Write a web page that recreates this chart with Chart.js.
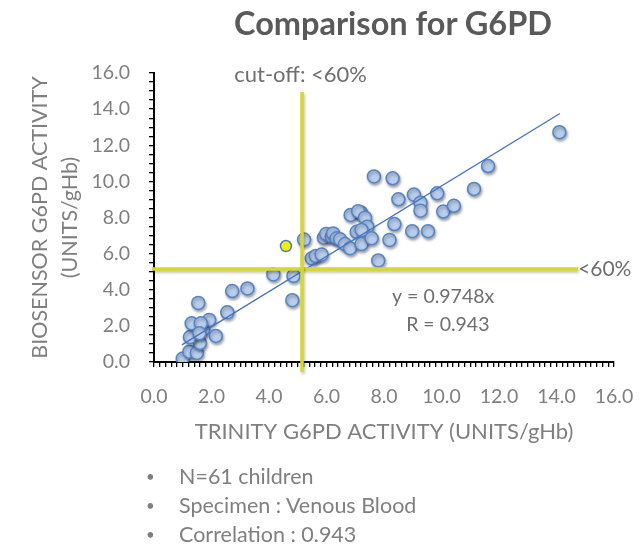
<!DOCTYPE html>
<html>
<head>
<meta charset="utf-8">
<script src="https://cdn.jsdelivr.net/npm/chart.js@4/dist/chart.umd.min.js"></script>
<style>
  html,body{margin:0;padding:0;background:#fff;}
  #wrap{position:relative;width:644px;height:547px;overflow:hidden;font-family:Lato,"Liberation Sans",sans-serif;}
  #c{position:absolute;left:0;top:0;}
  #title{position:absolute;left:153px;width:480px;top:3px;text-align:center;font-weight:bold;font-size:32.5px;color:#595959;line-height:40px;}
  ul{position:absolute;left:146px;top:462px;margin:0;padding:0;list-style:none;color:#7f7f7f;font-size:21.5px;}
  li{height:29px;line-height:29px;}
  li span.b{display:inline-block;width:33px;font-size:15px;vertical-align:top;}
</style>
</head>
<body>
<div id="wrap">
  <canvas id="c" width="644" height="547"></canvas>
  <div id="title">Comparison for G6PD</div>
  <ul>
    <li><span class="b">•</span>N=61 children</li>
    <li><span class="b">•</span>Specimen : Venous Blood</li>
    <li><span class="b">•</span>Correlation : 0.943</li>
  </ul>
</div>
<script>
// ---- data ----
const trinity = [1.00,1.23,1.49,1.60,1.25,1.71,1.31,1.92,2.15,2.55,1.54,2.72,3.25,4.15,4.85,4.81,1.63,1.58,
  5.22,5.49,5.63,5.83,5.91,5.99,6.18,6.23,6.35,6.47,6.64,6.82,6.84,7.20,7.10,7.34,7.42,7.05,7.22,7.22,
  7.57,7.65,8.30,7.80,8.19,8.36,8.50,9.04,8.98,9.53,9.27,9.27,9.85,10.06,10.43,11.13,11.62,14.10];
const biosensor = [0.19,0.57,0.50,1.05,1.38,1.80,2.14,2.33,1.44,2.75,3.27,3.93,4.07,4.85,4.77,3.42,2.14,1.59,
  6.78,5.74,5.87,5.95,6.88,7.09,6.94,7.12,6.85,6.79,6.53,6.30,8.14,8.27,8.35,7.99,7.49,7.21,7.31,6.53,
  6.85,10.27,10.17,5.62,6.76,7.64,9.01,9.27,7.24,7.24,8.82,8.38,9.34,8.33,8.65,9.58,10.85,12.72];
const flaggedX = [4.59];
const flaggedY = [6.42];
const trendX = [0.97, 14.12];
const trendY = [0.95, 13.76];
const cutoffVX = [5.15, 5.15];
const cutoffVY = [14.95, -0.55];
const cutoffHX = [-0.07, 14.75];
const cutoffHY = [5.15, 5.15];
const axisMin = 0, axisMax = 16;
const majorStep = 2;
const xTitle = 'TRINITY G6PD ACTIVITY (UNITS/gHb)';
const yTitle = ['BIOSENSOR G6PD ACTIVITY', '(UNITS/gHb)'];
const notes = [
  {text:'cut-off: <60%', x:5.1, y:15.9, align:'center', size:22},
  {text:'<60%', x:14.75, y:5.12, align:'left', size:21},
  {text:'y = 0.9748x', x:8.28, y:3.6, align:'left', size:19.5},
  {text:'R = 0.943', x:8.77, y:2.05, align:'left', size:19.5}
];

const pts = (xs, ys) => xs.map((v, i) => ({x: v, y: ys[i]}));
const FONT = 'Lato, "Liberation Sans", sans-serif';
const GRAY = '#7f7f7f';
const YEL = '#d6d92a';

const isMajor = v => Math.abs(v / majorStep - Math.round(v / majorStep)) < 1e-6;

const shadowPlugin = {
  id: 'shadows',
  beforeDatasetDraw(chart, args) {
    const ds = chart.data.datasets[args.index];
    const ctx = chart.ctx;
    ctx.save();
    if (ds.shadow) {
      ctx.shadowColor = ds.shadow;
      ctx.shadowBlur = 3;
      ctx.shadowOffsetX = 1;
      ctx.shadowOffsetY = 2;
    }
  },
  afterDatasetDraw(chart) { chart.ctx.restore(); }
};

const notesPlugin = {
  id: 'notes',
  afterDraw(chart) {
    const {ctx, scales: {x, y}} = chart;
    ctx.save();
    ctx.fillStyle = '#6f6f6f';
    ctx.textBaseline = 'middle';
    notes.forEach(n => {
      ctx.font = n.size + 'px ' + FONT;
      ctx.textAlign = n.align;
      ctx.fillText(n.text, x.getPixelForValue(n.x), y.getPixelForValue(n.y));
    });
    ctx.restore();
  }
};

new Chart(document.getElementById('c'), {
  type: 'scatter',
  data: {
    datasets: [
      {label:'cutoffV', type:'line', data: pts(cutoffVX, cutoffVY), borderColor: YEL, borderWidth: 3.5,
        pointRadius: 0, clip: false, order: 1, shadow: 'rgba(0,0,0,0.25)'},
      {label:'cutoffH', type:'line', data: pts(cutoffHX, cutoffHY), borderColor: YEL, borderWidth: 3.5,
        pointRadius: 0, clip: false, order: 1, shadow: 'rgba(0,0,0,0.25)'},
      {label:'trend', type:'line', data: pts(trendX, trendY), borderColor: '#4472c4', borderWidth: 1.3,
        pointRadius: 0, order: 2},
      {label:'flagged', data: pts(flaggedX, flaggedY), backgroundColor: '#f2ee0a', borderColor: '#4a7cc4',
        borderWidth: 1.5, pointRadius: 5.5, order: 3},
      {label:'G6PD', data: pts(trinity, biosensor), backgroundColor: '#b8cdec', borderColor: '#5384c8',
        borderWidth: 1.5, pointRadius: 6.5, order: 4, shadow: 'rgba(0,0,0,0.35)'}
    ]
  },
  options: {
    responsive: false,
    animation: false,
    events: [],
    layout: {padding: {left: 0, top: 73, right: 30, bottom: 95}},
    plugins: {legend: {display: false}, tooltip: {enabled: false}},
    scales: {
      x: {
        type: 'linear', min: axisMin, max: axisMax,
        afterFit(s) { s.height = 90; s.paddingRight = 30; s.paddingLeft = 0; },
        grid: {drawOnChartArea: false, drawTicks: true, tickLength: 5, color: '#000', lineWidth: 1.3},
        border: {display: true, color: '#000', width: 2},
        ticks: {stepSize: 0.2, autoSkip: false, maxRotation: 0, padding: 18, color: GRAY,
          font: {family: FONT, size: 19.5},
          callback: v => isMajor(v) ? Number(v).toFixed(1) : ''},
        title: {display: true, text: xTitle, color: GRAY, font: {family: FONT, size: 22},
          padding: {top: 0, bottom: 7}}
      },
      y: {
        type: 'linear', min: axisMin, max: axisMax,
        afterFit(s) { s.width = 154; s.paddingTop = 0; s.paddingBottom = 0; },
        grid: {drawOnChartArea: false, drawTicks: true, tickLength: 5, color: '#000', lineWidth: 1.3},
        border: {display: true, color: '#000', width: 2},
        ticks: {stepSize: 0.5, autoSkip: false, padding: 19, color: GRAY,
          font: {family: FONT, size: 19.5},
          callback: v => isMajor(v) ? Number(v).toFixed(1) : ''},
        title: {display: true, text: yTitle, color: GRAY, font: {family: FONT, size: 21.5, lineHeight: 1.4},
          padding: {top: 25, bottom: 0}}
      }
    }
  },
  plugins: [shadowPlugin, notesPlugin]
});
</script>
</body>
</html>
